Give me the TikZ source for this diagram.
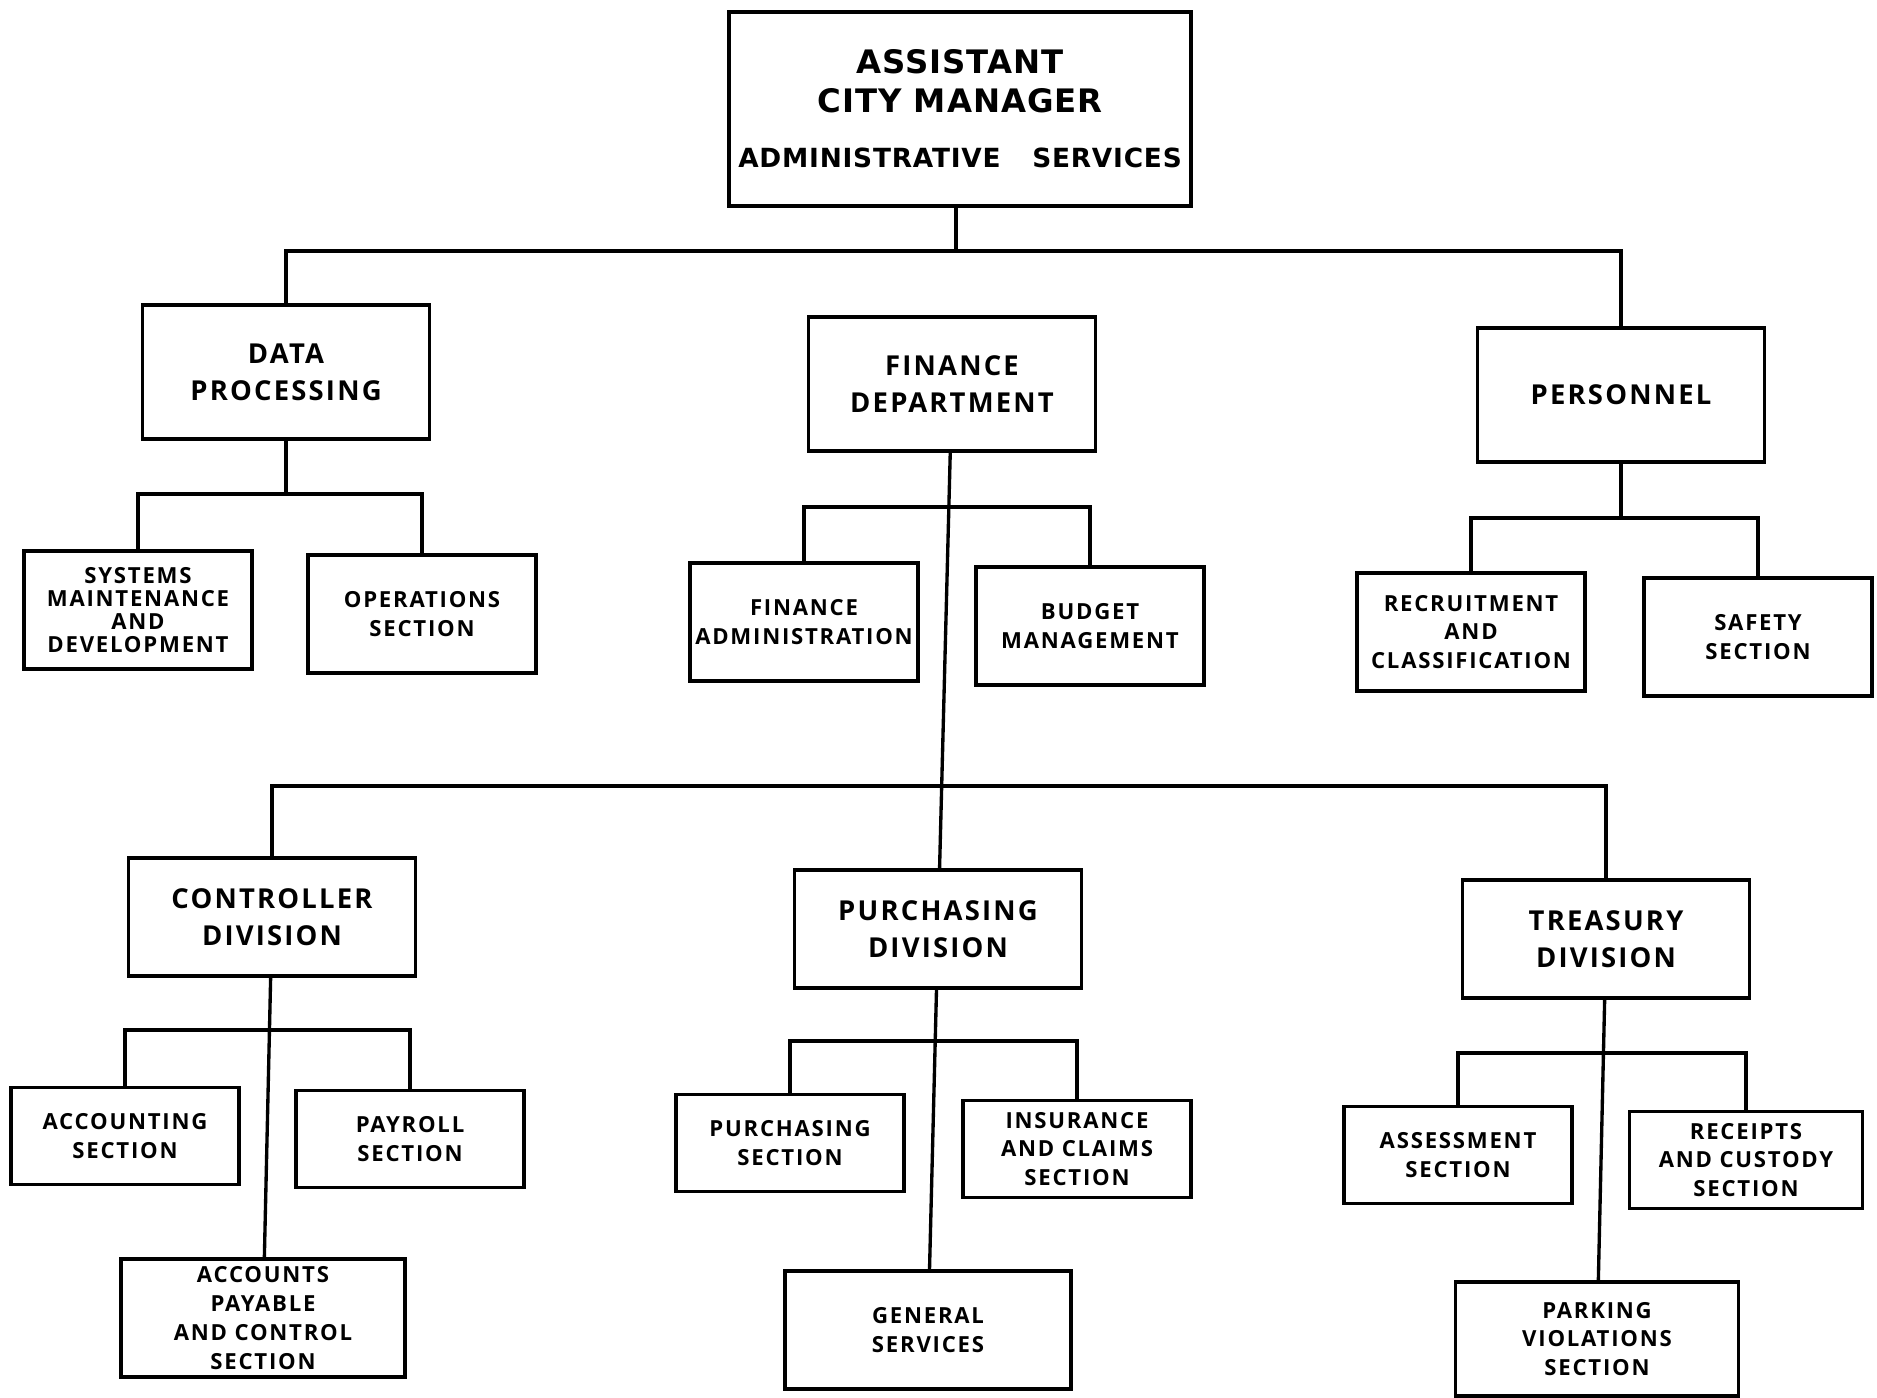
\documentclass[tikz,border=0pt]{standalone}
\usepackage{fontspec}
\setmainfont{Open Sans}
\newfontfamily\boxfont[LetterSpace=8]{Open Sans}
\newfontfamily\titlefont[LetterSpace=3]{DejaVu Sans}
\tikzset{
  orgbox/.style={draw, line width=0.95pt, rectangle, align=center, inner sep=0pt},
  topbox/.style={orgbox, minimum width=4.62cm, minimum height=1.94cm,
    font=\titlefont\bfseries\fontsize{9.2}{10.9}\selectfont},
  headbox/.style={orgbox, minimum width=2.87cm, minimum height=1.34cm,
    font=\boxfont\bfseries\fontsize{7.8}{10.5}\selectfont},
  divbox/.style={headbox, minimum height=1.18cm},
  secbox/.style={orgbox, minimum width=2.28cm, minimum height=1.18cm,
    font=\boxfont\bfseries\fontsize{6.3}{8.2}\selectfont},
  lowbox/.style={secbox, minimum height=0.97cm},
  link/.style={-, line width=0.95pt},
}
\begin{document}
\begin{tikzpicture}[x=0.01cm, y=-0.01cm]
  \useasboundingbox (0, 0) rectangle (1877, 1398);
  % top
  \node [topbox] (top) at (960, 109) {ASSISTANT\\CITY MANAGER\\[5pt]
    {\fontsize{7.5}{9}\selectfont ADMINISTRATIVE\hspace{9pt}SERVICES}};
  \node [headbox] (dp) at (286, 372) {DATA\\PROCESSING};
  \node [headbox] (fin) at (952, 384) {FINANCE\\DEPARTMENT};
  \node [headbox] (pers) at (1621, 395) {PERSONNEL};
  % sections under the first row
  \node [secbox, font=\boxfont\bfseries\fontsize{6.3}{6.6}\selectfont] (sys) at (138, 610) {SYSTEMS\\MAINTENANCE\\AND\\DEVELOPMENT};
  \node [secbox] (ops) at (422, 614) {OPERATIONS\\SECTION};
  \node [secbox] (fadm) at (804, 622) {FINANCE\\ADMINISTRATION};
  \node [secbox] (bud) at (1090, 626) {BUDGET\\MANAGEMENT};
  \node [secbox] (rec) at (1471, 632) {RECRUITMENT\\AND\\CLASSIFICATION};
  \node [secbox] (saf) at (1758, 637) {SAFETY\\SECTION};
  % divisions
  \node [divbox] (ctrl) at (272, 917) {CONTROLLER\\DIVISION};
  \node [divbox] (pdiv) at (938, 929) {PURCHASING\\DIVISION};
  \node [divbox] (tdiv) at (1606, 939) {TREASURY\\DIVISION};
  % sections under the divisions
  \node [lowbox] (acc) at (125, 1136) {ACCOUNTING\\SECTION};
  \node [lowbox] (pay) at (410, 1139) {PAYROLL\\SECTION};
  \node [secbox, minimum width=2.84cm] (ap) at (263, 1318) {ACCOUNTS\\PAYABLE\\AND CONTROL\\SECTION};
  \node [lowbox] (psec) at (790, 1143) {PURCHASING\\SECTION};
  \node [lowbox] (ins) at (1077, 1149) {INSURANCE\\AND CLAIMS\\SECTION};
  \node [secbox, minimum width=2.86cm] (gen) at (928, 1330) {GENERAL\\SERVICES};
  \node [lowbox] (ass) at (1458, 1155) {ASSESSMENT\\SECTION};
  \node [lowbox, minimum width=2.33cm] (rcu) at (1746, 1160) {RECEIPTS\\AND CUSTODY\\SECTION};
  \node [secbox, minimum width=2.83cm, minimum height=1.14cm] (park) at (1597, 1339) {PARKING\\VIOLATIONS\\SECTION};
  % junctions
  \coordinate (jtop) at (956, 251);
  \coordinate (jdp) at (286, 494);
  \coordinate (jfin) at (950, 507);
  \coordinate (jpers) at (1621, 518);
  \coordinate (jdiv) at (943, 786);
  \coordinate (jctrl) at (270, 1030);
  \coordinate (jpdiv) at (935, 1041);
  \coordinate (jtdiv) at (1604, 1053);
  % lines
  \draw [link] (top.south -| jtop) to (jtop);
  \draw [link] (dp) |- (jtop) -| (pers);
  \draw [link] (fin) to (pdiv);
  \draw [link] (dp) to (jdp);
  \draw [link] (sys) |- (jdp) -| (ops);
  \draw [link] (fadm) |- (jfin) -| (bud);
  \draw [link] (pers) to (jpers);
  \draw [link] (rec) |- (jpers) -| (saf);
  \draw [link] (ctrl) |- (jdiv) -| (tdiv);
  \draw [link] (ctrl) to (ap);
  \draw [link] (acc) |- (jctrl) -| (pay);
  \draw [link] (pdiv) to (gen);
  \draw [link] (psec) |- (jpdiv) -| (ins);
  \draw [link] (tdiv) to (park);
  \draw [link] (ass) |- (jtdiv) -| (rcu);
\end{tikzpicture}
\end{document}
